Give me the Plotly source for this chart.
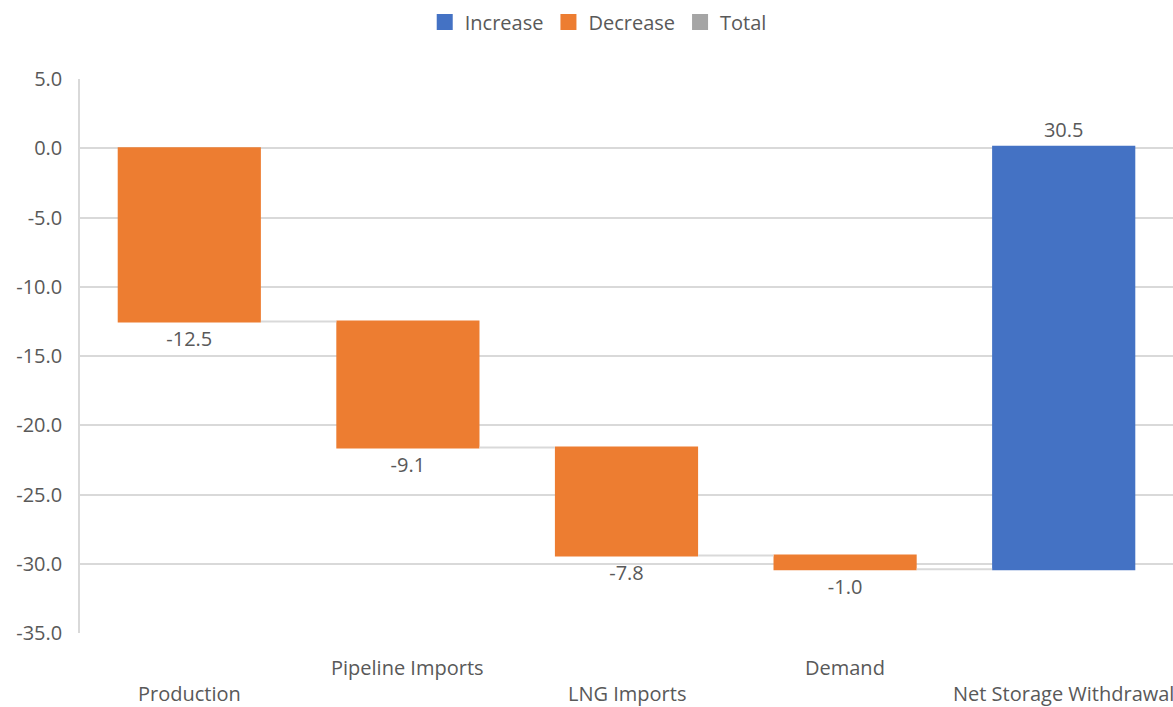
import plotly.graph_objects as go

categories = ["Production", "Pipeline Imports", "LNG Imports", "Demand", "Net Storage Withdrawal"]
values = [-12.5, -9.1, -7.8, -1.0, 30.5]
measures = ["relative", "relative", "relative", "relative", "relative"]
tick_values = [5, 0, -5, -10, -15, -20, -25, -30, -35]
tick_labels = ["5.0", "0.0", "-5.0", "-10.0", "-15.0", "-20.0", "-25.0", "-30.0", "-35.0"]
legend_names = ["Increase", "Decrease", "Total"]
legend_colors = ["#4472C4", "#ED7D31", "#A5A5A5"]

FONT = "Open Sans"
GRAY = "#595959"
FS = 20

fig = go.Figure()
fig.add_trace(go.Waterfall(
    x=categories,
    y=values,
    measure=measures,
    text=[f"{v:.1f}" for v in values],
    textposition="outside",
    textfont=dict(family=FONT, size=FS, color=GRAY),
    increasing=dict(marker=dict(color=legend_colors[0], line=dict(width=0))),
    decreasing=dict(marker=dict(color=legend_colors[1], line=dict(width=0))),
    totals=dict(marker=dict(color=legend_colors[2], line=dict(width=0))),
    connector=dict(mode="between", line=dict(color="#D9D9D9", width=2)),
    showlegend=False,
    cliponaxis=False,
))
for name, col in zip(legend_names, legend_colors):
    fig.add_trace(go.Scatter(
        x=[None], y=[None], mode="markers", name=name,
        marker=dict(symbol="square", size=16, color=col),
    ))

# staggered category labels
for i, c in enumerate(categories):
    fig.add_annotation(
        x=c, xref="x", y=0, yref="paper",
        text=c, showarrow=False,
        xanchor="center", yanchor="middle",
        yshift=-34 if i % 2 == 1 else -60,
        borderpad=0,
        font=dict(family=FONT, size=FS, color=GRAY),
    )

fig.update_layout(
    width=1173, height=707,
    margin=dict(l=80, r=0, t=79, b=74),
    paper_bgcolor="white", plot_bgcolor="white",
    waterfallgap=0.345,
    font=dict(family=FONT, size=FS, color=GRAY),
    legend=dict(
        orientation="h", xref="container", yref="container",
        x=0.510, xanchor="center", y=0.969, yanchor="middle",
        font=dict(family=FONT, size=FS, color=GRAY),
        itemclick=False,
    ),
    xaxis=dict(
        type="category",
        range=[-0.5, 4.5], showgrid=False, zeroline=False, showline=False,
        ticks="", showticklabels=False,
    ),
    yaxis=dict(
        range=[-35, 5], tickmode="array", tickvals=tick_values, ticktext=tick_labels,
        showgrid=True, gridcolor="#D9D9D9", gridwidth=1.5,
        zeroline=False, showline=True, linecolor="#D9D9D9", linewidth=1.5,
        ticks="", ticklabelstandoff=12,
        tickfont=dict(family=FONT, size=FS, color=GRAY),
    ),
)

fig.write_html("out.html")
